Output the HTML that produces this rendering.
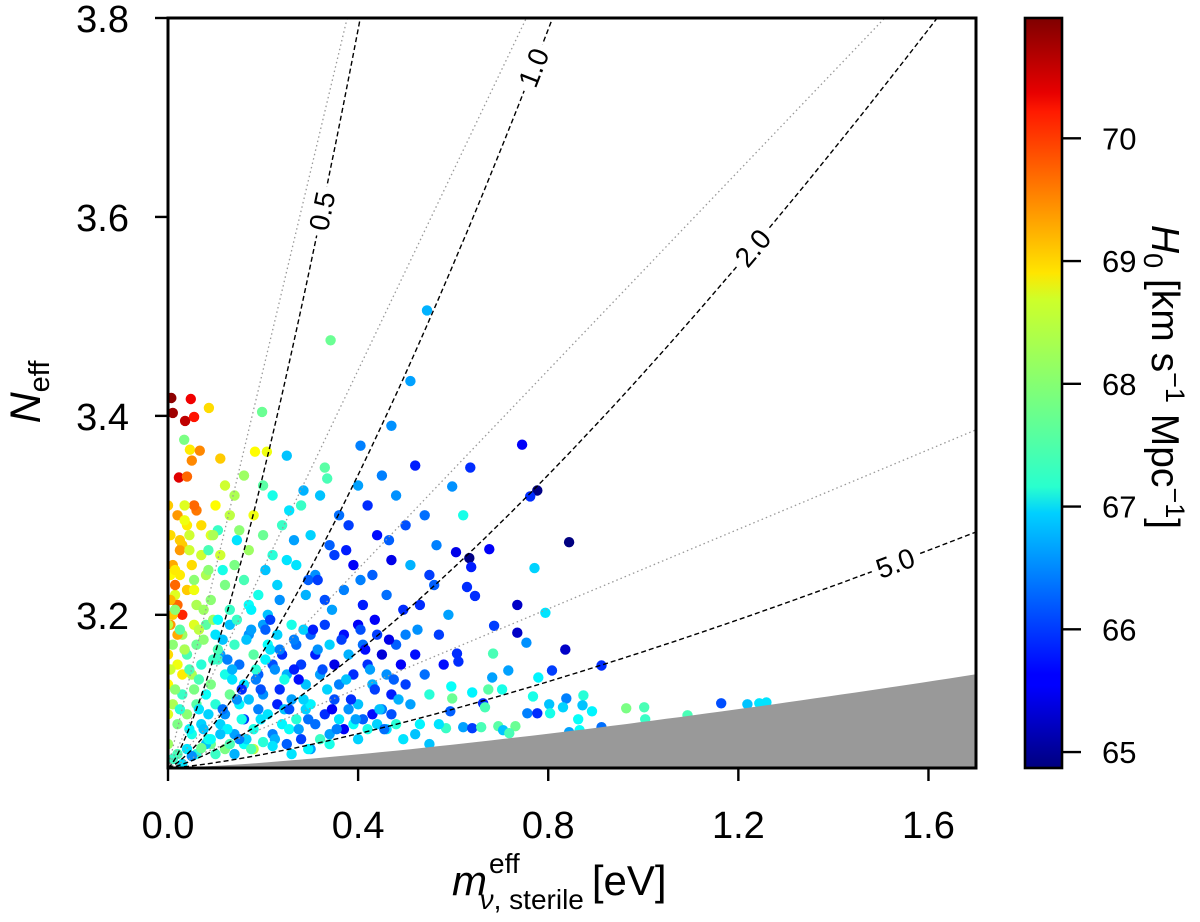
<!DOCTYPE html>
<html><head><meta charset="utf-8"><style>
html,body{margin:0;padding:0;background:#fff;}
svg{display:block;font-family:"Liberation Sans",sans-serif;}
</style></head><body>
<svg id="chart" width="1200" height="922" viewBox="0 0 1200 922" xmlns="http://www.w3.org/2000/svg">
<defs>
<clipPath id="plotclip"><rect x="168" y="18" width="808" height="750"/></clipPath>
<linearGradient id="jet" x1="0" y1="1" x2="0" y2="0">
<stop offset="0" stop-color="#00007f"/><stop offset="0.11" stop-color="#0000ff"/><stop offset="0.125" stop-color="#0000ff"/>
<stop offset="0.34" stop-color="#00d0ff"/><stop offset="0.375" stop-color="#29ffce"/><stop offset="0.5" stop-color="#7dff7a"/>
<stop offset="0.625" stop-color="#ceff29"/><stop offset="0.66" stop-color="#ffe500"/><stop offset="0.875" stop-color="#ff1a00"/>
<stop offset="0.9" stop-color="#e80000"/><stop offset="1" stop-color="#7f0000"/>
</linearGradient>
</defs>
<g id="plot" clip-path="url(#plotclip)"></g>
<g id="axes"></g>
<text transform="translate(40,392) rotate(-90)" text-anchor="middle" font-size="43"><tspan font-style="italic">N</tspan><tspan font-size="29" dy="9">eff</tspan></text>
<text x="452" y="895" font-size="42"><tspan font-style="italic">m</tspan><tspan font-size="28" dx="2" dy="-22">eff</tspan><tspan font-size="28" dx="-40" dy="36"><tspan font-style="italic">ν</tspan>, sterile</tspan><tspan dx="8" dy="-14">[eV]</tspan></text>
<text transform="translate(1152,377) rotate(90)" text-anchor="middle" font-size="39"><tspan font-style="italic">H</tspan><tspan font-size="27" dy="8">0</tspan><tspan dy="-8"> [km s</tspan><tspan font-size="27" dy="-14">−1</tspan><tspan dy="14"> Mpc</tspan><tspan font-size="27" dy="-14">−1</tspan><tspan dy="14">]</tspan></text>
</svg>
<script>
// axis ranges
const xMin = 0, xMax = 1.7, yMin = 3.046, yMax = 3.8;
const cMin = 64.87, cMax = 70.98;
const xTicks = [0.0, 0.4, 0.8, 1.2, 1.6];
const xTickLabels = ["0.0", "0.4", "0.8", "1.2", "1.6"];
const yTicks = [3.2, 3.4, 3.6, 3.8];
const yTickLabels = ["3.2", "3.4", "3.6", "3.8"];
const cTicks = [65, 66, 67, 68, 69, 70];
const thermalMasses = [0.5, 1.0, 2.0, 5.0];
const thermalLabels = ["0.5", "1.0", "2.0", "5.0"];
const dwMasses = [0.5, 1.0, 2.0, 5.0];
const boundMass = 10.0;
// sample values
const mVals = [
0.007,0.01,0.036,0.055,0.048,0.086,0.034,0.046,0.067,0.05,
0.11,0.023,0.04,0.0,0.02,0.06,0.055,0.005,0.03,0.045,
0.01,0.025,0.05,0.07,0.015,0.04,0.02,0.03,0.005,0.06,
0.198,0.183,0.208,0.12,0.14,0.16,0.2,0.22,0.1,0.13,
0.18,0.07,0.09,0.15,0.2,0.24,0.11,0.14,0.17,0.22,
0.25,0.08,0.12,0.16,0.19,0.23,0.09,0.13,0.17,0.21,
0.33,0.335,0.28,0.32,0.36,0.4,0.42,0.45,0.48,0.52,
0.3,0.34,0.38,0.44,0.5,0.54,0.27,0.31,0.35,0.39,
0.43,0.47,0.51,0.55,0.29,0.33,0.37,0.41,0.46,0.53,
0.545,0.342,0.51,0.25,0.405,0.47,0.745,0.636,0.598,0.621,
0.777,0.762,0.844,0.606,0.634,0.676,0.638,0.771,0.629,0.646,
0.735,0.794,0.686,0.735,0.754,0.836,0.684,0.608,0.611,0.912,
0.716,0.808,0.682,0.779,0.596,0.674,0.703,0.64,0.838,0.874,
0.768,0.802,0.831,0.872,0.892,0.964,1.002,1.164,1.219,1.244,
1.259,1.004,1.093,0.863,0.756,0.777,0.804,0.663,0.667,0.598,
0.594,0.585,0.621,0.64,0.659,0.695,0.705,0.731,0.718,0.844,
0.866,0.912,0.56,0.57,0.58,0.565,0.59,0.55,0.57,0.55,
0.0,0.01,0.02,0.03,0.04,0.05,0.06,0.07,0.08,0.09,
0.0,0.01,0.02,0.03,0.04,0.05,0.06,0.07,0.08,0.09,
0.0,0.02,0.04,0.06,0.08,0.1,0.12,0.14,0.16,0.18,
0.1,0.11,0.12,0.13,0.14,0.15,0.16,0.17,0.18,0.19,
0.1,0.11,0.12,0.13,0.14,0.15,0.16,0.17,0.18,0.19,
0.2,0.21,0.22,0.23,0.24,0.25,0.26,0.27,0.28,0.29,
0.2,0.21,0.22,0.23,0.24,0.25,0.26,0.27,0.28,0.29,
0.3,0.31,0.32,0.33,0.34,0.35,0.36,0.37,0.38,0.39,
0.3,0.31,0.32,0.33,0.34,0.35,0.36,0.37,0.38,0.39,
0.4,0.41,0.42,0.43,0.44,0.45,0.46,0.47,0.48,0.49,
0.4,0.41,0.42,0.43,0.44,0.45,0.46,0.47,0.48,0.5,
0.51,0.52,0.53,0.54,0.52,0.5,0.26,0.3,0.34,0.4,
0.0,0.01,0.02,0.03,0.0,0.015,0.025,0.005,0.04,0.035,
0.015,0.025,0.035,0.045,0.055,0.065,0.075,0.085,0.095,0.105,
0.005,0.015,0.025,0.035,0.045,0.055,0.065,0.075,0.085,0.095,
0.105,0.115,0.125,0.135,0.145,0.155,0.165,0.175,0.185,0.195,
0.105,0.115,0.125,0.135,0.145,0.155,0.165,0.175,0.185,0.195,
0.205,0.215,0.225,0.235,0.245,0.255,0.265,0.275,0.285,0.295,
0.205,0.215,0.225,0.235,0.245,0.255,0.265,0.275,0.285,0.295,
0.305,0.315,0.325,0.335,0.345,0.355,0.365,0.375,0.385,0.395,
0.405,0.415,0.425,0.435,0.445,0.455,0.465,0.475,0.485,0.495,
0.055,0.085,0.115,0.145,0.175,0.205,0.235,0.265,0.295,0.105,
0.315,0.345,0.375,0.405,0.435,0.465,0.495,0.525,0.255,0.285,
0.01,0.03,0.05,0.07,0.09,0.11,0.13,0.15,0.2,0.22,
0.005,0.015,0.025,0.035,0.045,0.055,0.065,0.075,0.085,0.095
];
const nVals = [
3.418,3.403,3.395,3.399,3.417,3.408,3.376,3.366,3.365,3.355,
3.357,3.338,3.339,3.31,3.30,3.305,3.31,3.28,3.27,3.28,
3.25,3.24,3.25,3.26,3.22,3.225,3.21,3.20,3.19,3.21,
3.404,3.364,3.364,3.33,3.32,3.34,3.33,3.32,3.31,3.30,
3.30,3.29,3.28,3.285,3.28,3.29,3.26,3.25,3.265,3.26,
3.255,3.24,3.23,3.235,3.22,3.23,3.215,3.205,3.21,3.2,
3.348,3.337,3.31,3.32,3.30,3.33,3.31,3.34,3.32,3.35,
3.28,3.27,3.29,3.28,3.29,3.30,3.25,3.24,3.26,3.25,
3.24,3.255,3.25,3.24,3.22,3.215,3.225,3.21,3.22,3.21,
3.506,3.476,3.435,3.36,3.37,3.39,3.371,3.348,3.329,3.300,
3.325,3.319,3.273,3.263,3.257,3.266,3.248,3.247,3.228,3.219,
3.21,3.202,3.189,3.182,3.172,3.165,3.161,3.161,3.153,3.149,
3.144,3.144,3.137,3.137,3.128,3.125,3.125,3.122,3.116,3.119,
3.118,3.11,3.107,3.109,3.103,3.106,3.107,3.111,3.11,3.111,
3.112,3.095,3.099,3.095,3.101,3.101,3.101,3.111,3.107,3.116,
3.103,3.086,3.087,3.086,3.087,3.088,3.084,3.088,3.081,3.082,
3.084,3.087,3.23,3.18,3.15,3.27,3.2,3.12,3.09,3.07,
3.19,3.17,3.15,3.18,3.16,3.14,3.17,3.15,3.19,3.13,
3.13,3.11,3.09,3.12,3.10,3.08,3.11,3.09,3.12,3.07,
3.07,3.06,3.065,3.06,3.07,3.06,3.065,3.06,3.07,3.065,
3.18,3.16,3.14,3.19,3.17,3.15,3.13,3.18,3.16,3.14,
3.11,3.09,3.1,3.12,3.08,3.11,3.095,3.115,3.085,3.105,
3.19,3.17,3.15,3.18,3.16,3.14,3.19,3.17,3.15,3.13,
3.12,3.1,3.08,3.11,3.09,3.07,3.115,3.095,3.075,3.105,
3.18,3.16,3.14,3.19,3.17,3.15,3.13,3.18,3.16,3.14,
3.11,3.09,3.075,3.1,3.08,3.115,3.095,3.085,3.105,3.09,
3.19,3.17,3.15,3.13,3.18,3.16,3.14,3.12,3.17,3.15,
3.11,3.095,3.085,3.1,3.09,3.105,3.085,3.1,3.09,3.13,
3.11,3.16,3.09,3.14,3.08,3.18,3.06,3.065,3.07,3.075,
3.16,3.2,3.18,3.14,3.10,3.23,3.265,3.24,3.29,3.31,
3.205,3.185,3.165,3.145,3.125,3.105,3.085,3.075,3.195,3.155,
3.145,3.125,3.105,3.165,3.085,3.19,3.135,3.175,3.1,3.155,
3.195,3.175,3.155,3.135,3.115,3.095,3.075,3.185,3.145,3.125,
3.165,3.105,3.085,3.145,3.195,3.125,3.175,3.065,3.135,3.095,
3.185,3.165,3.145,3.125,3.105,3.085,3.175,3.135,3.115,3.095,
3.155,3.195,3.075,3.165,3.135,3.105,3.145,3.085,3.185,3.065,
3.185,3.165,3.145,3.125,3.105,3.085,3.175,3.135,3.115,3.095,
3.185,3.165,3.145,3.125,3.105,3.085,3.175,3.135,3.115,3.075,
3.235,3.265,3.245,3.275,3.205,3.245,3.215,3.275,3.235,3.285,
3.235,3.205,3.265,3.235,3.195,3.275,3.205,3.185,3.305,3.325,
3.055,3.05,3.058,3.066,3.075,3.08,3.07,3.075,3.072,3.068,
3.215,3.245,3.275,3.295,3.265,3.225,3.185,3.205,3.245,3.28
];
const hVals = [
70.9,70.8,70.6,70.1,70.3,68.9,67.9,68.8,69.4,69.4,
69.0,70.4,69.6,69.0,69.3,69.5,69.6,68.9,69.0,68.4,
69.2,68.8,68.9,68.4,68.5,69.0,69.6,70.0,69.3,68.2,
67.8,68.7,68.6,68.4,68.2,68.1,67.7,67.3,68.7,68.3,
68.6,68.9,68.5,68.0,67.8,67.5,68.4,67.9,68.1,67.4,
67.0,68.2,67.9,67.6,67.3,66.9,68.0,67.5,67.2,66.8,
67.7,67.6,67.5,66.8,66.3,66.6,65.9,66.4,66.5,65.8,
66.9,66.2,66.0,65.7,66.1,66.3,67.0,66.5,66.0,65.6,
66.2,65.5,66.7,66.0,66.7,66.1,66.4,65.8,66.3,65.9,
66.7,67.8,66.6,66.8,66.4,66.5,65.6,65.9,66.5,67.3,
64.9,65.9,64.8,65.5,64.9,65.6,65.8,66.9,65.9,65.9,
65.3,67.0,66.0,65.3,66.5,65.3,67.6,65.9,65.9,65.9,
66.6,66.0,66.6,67.1,67.2,67.7,67.3,67.1,66.4,67.4,
67.3,66.8,66.9,66.8,67.1,67.9,67.6,66.1,66.8,67.0,
67.0,67.5,67.6,67.2,66.4,65.9,67.3,65.9,67.6,67.8,
66.2,67.5,66.6,66.0,67.6,67.7,66.8,67.8,67.6,66.6,
67.2,66.3,66.2,66.0,65.7,66.4,66.6,67.4,67.0,66.8,
68.3,68.0,68.6,68.1,67.6,68.2,67.8,67.4,67.7,67.9,
68.7,68.2,67.9,67.5,68.0,67.3,67.7,66.9,67.2,67.8,
68.1,67.6,67.0,67.4,66.8,67.5,67.9,66.7,67.2,68.3,
67.0,66.6,67.3,66.8,67.5,66.3,67.0,66.5,67.7,66.2,
67.4,66.9,66.5,67.8,66.6,67.1,66.0,66.8,67.3,66.4,
66.6,67.2,66.1,66.9,65.9,66.7,67.3,66.3,66.0,66.8,
66.5,67.0,66.4,65.8,67.1,66.2,66.6,67.4,66.0,66.9,
66.2,65.8,66.6,66.0,66.9,65.5,66.4,65.7,66.7,65.9,
67.1,66.3,67.5,65.9,66.6,66.1,67.0,65.6,66.5,67.2,
65.6,66.3,65.9,66.7,66.0,65.4,66.5,65.8,66.2,65.6,
66.8,66.2,67.3,65.7,66.9,66.4,67.0,66.1,67.4,66.0,
66.6,65.7,67.1,66.3,66.8,66.4,67.0,66.6,67.3,66.9,
68.9,69.0,69.2,68.8,68.5,69.6,69.3,68.7,68.8,68.5,
68.0,67.7,67.2,67.6,67.9,67.0,66.8,67.3,68.1,67.5,
68.4,68.0,67.4,68.2,67.1,68.5,67.6,68.0,66.9,67.5,
67.2,66.8,66.4,67.0,66.5,67.3,66.9,66.6,67.4,66.1,
67.6,66.3,67.1,66.7,67.5,65.9,66.8,67.6,66.4,67.0,
66.2,67.0,66.5,65.9,66.8,67.2,66.4,65.7,66.9,66.3,
67.1,66.0,66.7,66.4,67.3,66.1,65.8,66.6,66.9,67.1,
65.8,66.5,66.1,66.9,65.6,66.4,66.0,66.8,65.9,66.6,
66.1,65.7,66.6,66.0,66.8,66.3,65.5,66.2,66.7,67.0,
68.0,67.6,67.3,67.0,67.1,66.8,66.5,66.6,66.2,67.5,
66.0,66.6,65.8,66.4,65.6,66.2,65.9,66.5,67.0,66.7,
67.5,67.0,66.5,67.8,67.2,66.8,67.6,66.4,67.4,67.0,
69.1,68.8,69.0,68.6,68.4,68.6,68.3,68.1,68.0,68.2
];

const NS = "http://www.w3.org/2000/svg";
const L = 168, R = 976, T = 18, B = 768;
const xs = v => L + (v - xMin) / (xMax - xMin) * (R - L);
const ys = v => B - (v - yMin) / (yMax - yMin) * (B - T);
const cs = v => B - (v - cMin) / (cMax - cMin) * (B - T);
function el(tag, attrs, parent) {
  const e = document.createElementNS(NS, tag);
  for (const k in attrs) e.setAttribute(k, attrs[k]);
  parent.appendChild(e); return e;
}
function jet(t) {
  t = Math.max(0, Math.min(1, t));
  const r = Math.max(0, Math.min(1, 1.5 - Math.abs(4 * t - 3)));
  const g = Math.max(0, Math.min(1, 1.5 - Math.abs(4 * t - 2)));
  const b = Math.max(0, Math.min(1, 1.5 - Math.abs(4 * t - 1)));
  return `rgb(${Math.round(r*255)},${Math.round(g*255)},${Math.round(b*255)})`;
}
const plot = document.getElementById('plot');
const axes = document.getElementById('axes');

// scatter
for (let i = 0; i < mVals.length; i++) {
  const c = el('circle', {cx: xs(mVals[i]).toFixed(1), cy: ys(nVals[i]).toFixed(1), r: 5.2, fill: jet((hVals[i] - cMin) / (cMax - cMin))}, plot);
  
  
}

// gray excluded region (thermal bound)
{
  let d = `M${xs(0)},${ys(yMin)}`;
  for (let k = 0; k <= 60; k++) { const m = xMax * k / 60; d += ` L${xs(m).toFixed(1)},${ys(yMin + Math.pow(m / boundMass, 4/3)).toFixed(1)}`; }
  d += ` L${xs(xMax)},${B + 2} L${xs(0)},${B + 2} Z`;
  const p = el('path', {d: d, fill: '#999999'}, plot);
  
  
}

// dotted DW lines
dwMasses.forEach(mt => {
  const m2 = Math.min(xMax, mt * (yMax - yMin));
  const p = el('line', {x1: xs(0), y1: ys(yMin), x2: xs(m2), y2: ys(yMin + m2 / mt), stroke: '#999', 'stroke-width': 1.3, 'stroke-dasharray': '1.5 3'}, plot);
  
  
});

// dashed thermal lines with labels
const labelFrac = [0.8, 0.95, 0.76, 0.9];
thermalMasses.forEach((mt, idx) => {
  const mEnd = Math.min(xMax, mt * Math.pow(yMax - yMin, 0.75));
  let d = '';
  for (let k = 0; k <= 80; k++) { const m = mEnd * k / 80; d += (k ? ' L' : 'M') + xs(m).toFixed(1) + ',' + ys(yMin + Math.pow(m / mt, 4/3)).toFixed(1); }
  const p = el('path', {d: d, fill: 'none', stroke: '#000', 'stroke-width': 1.4, 'stroke-dasharray': '5 3'}, plot);
  
  
  const ml = mEnd * labelFrac[idx];
  const px = xs(ml), py = ys(yMin + Math.pow(ml / mt, 4/3));
  const ml2 = ml * 1.01;
  const ang = Math.atan2(ys(yMin + Math.pow(ml2 / mt, 4/3)) - py, xs(ml2) - px) * 180 / Math.PI;
  const g = el('g', {transform: `translate(${px.toFixed(1)},${py.toFixed(1)}) rotate(${ang.toFixed(1)})`}, plot);
  el('rect', {x: -25, y: -14, width: 50, height: 28, fill: '#fff'}, g);
  const t = el('text', {x: 0, y: 10, 'text-anchor': 'middle', 'font-size': 28, fill: '#000'}, g);
  t.textContent = thermalLabels[idx];
  
  
});

// frame
el('rect', {x: L, y: T, width: R - L, height: B - T, fill: 'none', stroke: '#000', 'stroke-width': 3}, axes);

// x ticks
xTicks.forEach((v, i) => {
  el('line', {x1: xs(v), y1: B, x2: xs(v), y2: B + 13, stroke: '#000', 'stroke-width': 2.4}, axes);
  const t = el('text', {x: xs(v), y: 838, 'text-anchor': 'middle', 'font-size': 38}, axes);
  t.textContent = xTickLabels[i];
  
  
});
// y ticks
yTicks.forEach((v, i) => {
  el('line', {x1: L, y1: ys(v), x2: L - 13, y2: ys(v), stroke: '#000', 'stroke-width': 2.4}, axes);
  const t = el('text', {x: 129, y: ys(v) + 14, 'text-anchor': 'end', 'font-size': 38}, axes);
  t.textContent = yTickLabels[i];
  
  
});

// colorbar
{
  const r = el('rect', {x: 1025, y: T, width: 37, height: B - T, fill: 'url(#jet)', stroke: '#000', 'stroke-width': 2.6}, axes);
  
  
  cTicks.forEach(v => {
    el('line', {x1: 1062, y1: cs(v), x2: 1081, y2: cs(v), stroke: '#000', 'stroke-width': 2.4}, axes);
    const t = el('text', {x: 1102, y: cs(v) + 11, 'font-size': 31}, axes);
    t.textContent = String(v);
    
    
  });
}
</script>
</body></html>
